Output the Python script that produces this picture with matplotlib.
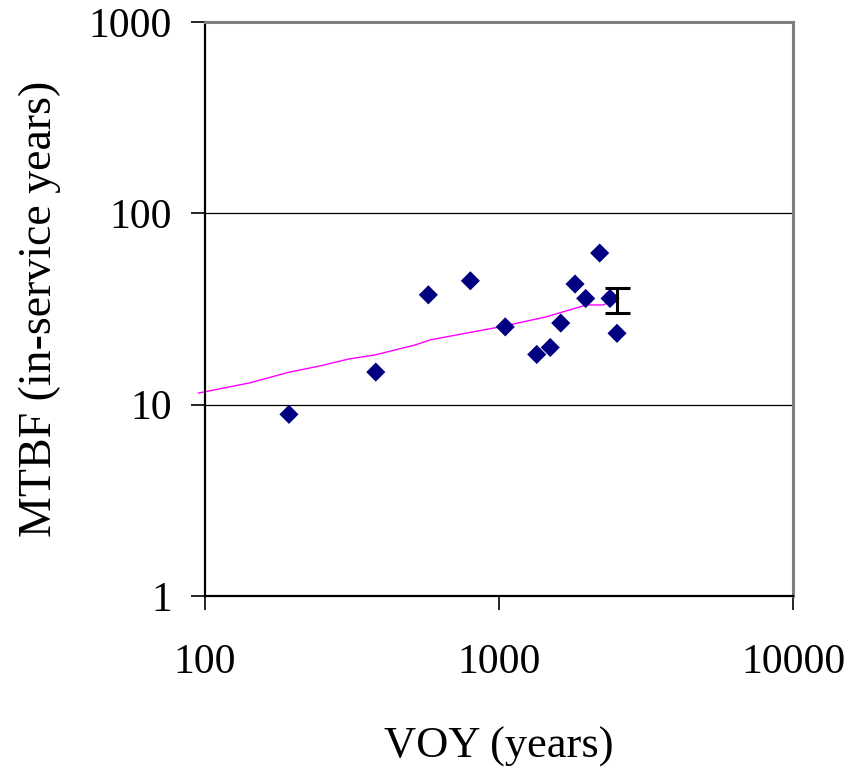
import matplotlib
matplotlib.use("Agg")
import matplotlib.pyplot as plt
from matplotlib.ticker import FixedLocator, NullLocator, FixedFormatter

# observed units: VOY (years) vs MTBF (in-service years)
voy = [193, 381, 575, 799, 1050, 1344, 1494, 1622, 1814, 1972, 2200, 2386, 2520]
mtbf = [8.9, 14.8, 37.5, 44.4, 25.5, 18.3, 19.9, 26.7, 42.7, 35.9, 62.0, 35.9, 23.6]

# cumulative trend line (magenta)
trend_x = [95, 142, 192, 249, 307, 379, 518, 582, 1008, 1453, 1655, 1988, 2263, 2386]
trend_y = [11.5, 13.0, 14.75, 16.0, 17.3, 18.2, 20.5, 21.8, 25.5, 28.8, 30.6, 33.2, 33.2, 34.5]

# overall estimate with error bar
est_x = [2512]
est_y = [35.1]
est_lo = [30.2]
est_hi = [40.8]

x_ticks = [100, 1000, 10000]
y_ticks = [1, 10, 100, 1000]

plt.rcParams["font.family"] = ["Liberation Serif", "DejaVu Serif"]

fig = plt.figure(figsize=(8.63, 7.71), dpi=100)
ax = fig.add_axes([205 / 863, 1 - 596 / 771, (793 - 205) / 863, (596 - 22) / 771])

ax.set_xscale("log")
ax.set_yscale("log")
ax.set_xlim(100, 10000)
ax.set_ylim(1, 1000)

for y in [10, 100]:
    ax.axhline(y, color="black", lw=0.9, zorder=1)

ax.plot(trend_x, trend_y, color="#ff00ff", lw=1.0, zorder=2, clip_on=False)
ax.scatter(voy, mtbf, marker="D", s=95, color="#000080", edgecolors="none", zorder=3)
ax.errorbar(est_x, est_y,
            yerr=[[est_y[0] - est_lo[0]], [est_hi[0] - est_y[0]]],
            fmt="none", ecolor="black", elinewidth=2.2, capsize=9, capthick=2.2, zorder=4)

ax.xaxis.set_major_locator(FixedLocator(x_ticks))
ax.xaxis.set_major_formatter(FixedFormatter([str(t) for t in x_ticks]))
ax.xaxis.set_minor_locator(NullLocator())
ax.yaxis.set_major_locator(FixedLocator(y_ticks))
ax.yaxis.set_major_formatter(FixedFormatter([str(t) for t in y_ticks]))
ax.yaxis.set_minor_locator(NullLocator())

ax.tick_params(axis="both", direction="out", length=10, width=1.2, color="black",
               labelsize=30)
ax.tick_params(axis="x", pad=24)
ax.tick_params(axis="y", pad=14)

ax.spines["left"].set_color("black")
ax.spines["bottom"].set_color("black")
ax.spines["left"].set_linewidth(1.6)
ax.spines["bottom"].set_linewidth(1.6)
ax.spines["top"].set_color("#808080")
ax.spines["right"].set_color("#808080")
ax.spines["top"].set_linewidth(2.2)
ax.spines["right"].set_linewidth(2.2)

ax.set_xlabel("VOY (years)", fontsize=32, labelpad=32)
ax.set_ylabel("MTBF (in-service years)", fontsize=33, labelpad=20)

fig.savefig("out.png", dpi=100)
